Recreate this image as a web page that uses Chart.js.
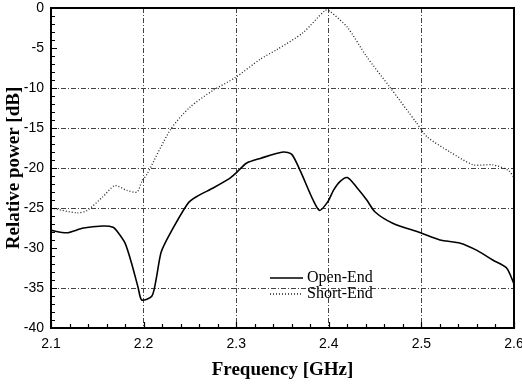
<!DOCTYPE html>
<html>
<head>
<meta charset="utf-8">
<script src="https://cdn.jsdelivr.net/npm/chart.js@4/dist/chart.umd.min.js"></script>
<style>
  html, body { margin: 0; padding: 0; background: #fff; }
  #wrap { width: 522px; height: 384px; }
</style>
</head>
<body>
<div id="wrap"><canvas id="grafico"></canvas></div>
<script>
// ------ DADOS ------
var freqOpen = [2.100, 2.117, 2.135, 2.156, 2.167, 2.172, 2.180, 2.187, 2.194, 2.198,
  2.209, 2.214, 2.219, 2.229, 2.248, 2.257, 2.275, 2.293, 2.300, 2.311,
  2.326, 2.351, 2.360, 2.369, 2.383, 2.390, 2.399, 2.405, 2.412, 2.420,
  2.430, 2.441, 2.450, 2.469, 2.499, 2.520, 2.542, 2.560, 2.577, 2.592, 2.600];
var powerOpen = [-27.8, -28.1, -27.5, -27.25, -27.4, -28.0, -29.4, -31.9, -34.9, -36.5,
  -36.0, -33.6, -30.5, -28.1, -24.4, -23.6, -22.5, -21.3, -20.6, -19.4,
  -18.8, -18.0, -18.3, -20.3, -24.0, -25.3, -24.2, -22.8, -21.7, -21.2,
  -22.4, -24.0, -25.5, -26.9, -28.1, -29.0, -29.4, -30.3, -31.5, -32.5, -34.5];

var freqShort = [2.100, 2.128, 2.139, 2.156, 2.169, 2.182, 2.193, 2.198, 2.204, 2.229,
  2.250, 2.275, 2.299, 2.326, 2.344, 2.372, 2.396, 2.401, 2.420, 2.441,
  2.466, 2.495, 2.506, 2.531, 2.556, 2.577, 2.594, 2.600];
var powerShort = [-25.0, -25.6, -25.3, -23.6, -22.2, -22.8, -23.0, -21.7, -20.7, -15.2,
  -12.4, -10.3, -8.7, -6.4, -5.2, -3.1, -0.3, -0.4, -2.4, -6.1,
  -9.9, -14.4, -16.1, -18.0, -19.6, -19.6, -20.3, -21.2];

var seriesNames = ['Open-End', 'Short-End'];
var xTicks = [2.1, 2.2, 2.3, 2.4, 2.5, 2.6];
var yTicks = [0, -5, -10, -15, -20, -25, -30, -35, -40];
var hiddenGrid = [-5, -30]; // essas linhas nao aparecem no original

function pares(xs, ys) {
  return xs.map(function (x, i) { return { x: x, y: ys[i] }; });
}

// ------ PLUGIN: moldura, ticks internos e legenda ------
var moldura = {
  id: 'moldura',
  afterDraw: function (chart) {
    var ctx = chart.ctx;
    var a = chart.chartArea;
    var sx = chart.scales.x, sy = chart.scales.y;
    ctx.save();

    // ticks menores para dentro
    ctx.strokeStyle = '#000';
    ctx.lineWidth = 1.2;
    ctx.beginPath();
    for (var v = -40; v <= 0; v++) {
      var py = Math.round(sy.getPixelForValue(v)) + 0.5;
      var len = (v % 5 === 0) ? 6 : 4;
      ctx.moveTo(a.left, py);
      ctx.lineTo(a.left + len, py);
    }
    for (var k = 0; k <= 25; k++) {
      var f = 2.1 + k * 0.02;
      var px = Math.round(sx.getPixelForValue(f)) + 0.5;
      var l2 = (k % 5 === 0) ? 6 : 4;
      ctx.moveTo(px, a.bottom);
      ctx.lineTo(px, a.bottom - l2);
    }
    ctx.stroke();

    // moldura
    ctx.lineWidth = 2;
    ctx.strokeRect(a.left, a.top, a.right - a.left, a.bottom - a.top);

    // legenda
    ctx.font = '16px "Liberation Serif", serif';
    ctx.textBaseline = 'middle';
    ctx.fillStyle = '#000';
    chart.data.datasets.forEach(function (ds, i) {
      var ly = a.top + 270 + i * 16;
      var lx = a.left + 219;
      ctx.beginPath();
      ctx.strokeStyle = ds.borderColor;
      ctx.lineWidth = ds.borderWidth;
      ctx.setLineDash(ds.borderDash || []);
      ctx.moveTo(lx, ly);
      ctx.lineTo(lx + 33, ly);
      ctx.stroke();
      ctx.setLineDash([]);
      ctx.fillText(ds.label, lx + 37, ly);
    });
    ctx.restore();
  }
};

var gridDash = [5, 2, 1, 2];
var serifTitle = { family: '"Liberation Serif", serif', size: 19, weight: 'bold' };

var ctx = document.getElementById('grafico');

var grafico = new Chart(ctx, {
  type: 'line',
  data: {
    datasets: [{
      label: seriesNames[0],
      data: pares(freqOpen, powerOpen),
      borderColor: '#000',
      borderWidth: 1.6,
      pointRadius: 0,
      tension: 0.25,
      fill: false
    }, {
      label: seriesNames[1],
      data: pares(freqShort, powerShort),
      borderColor: '#222',
      borderWidth: 1.3,
      borderDash: [1, 2],
      pointRadius: 0,
      tension: 0.25,
      fill: false
    }]
  },
  options: {
    responsive: true,
    maintainAspectRatio: false,
    animation: false,
    layout: { padding: { top: 8, right: 8, left: 0, bottom: 0 } },
    plugins: {
      legend: { display: false },
      tooltip: { enabled: false }
    },
    scales: {
      x: {
        type: 'linear',
        min: 2.1,
        max: 2.6,
        afterBuildTicks: function (scale) {
          scale.ticks = xTicks.map(function (v) { return { value: v }; });
        },
        afterFit: function (scale) {
          scale.height = 56;
          scale.paddingLeft = 0;
          scale.paddingRight = 0;
        },
        title: {
          display: true,
          text: 'Frequency [GHz]',
          color: '#000',
          font: serifTitle,
          padding: { top: 0, bottom: 3 }
        },
        ticks: {
          padding: 8,
          color: '#000',
          font: { family: '"Liberation Sans", Arial, sans-serif', size: 14 },
          callback: function (v) { return v.toFixed(1); }
        },
        grid: {
          drawTicks: false,
          color: function (c) {
            var v = c.tick ? c.tick.value : null;
            if (v === 2.1 || v === 2.6) return 'rgba(0,0,0,0)';
            return '#444';
          },
          lineWidth: 1
        },
        border: { display: false, dash: gridDash }
      },
      y: {
        min: -40,
        max: 0,
        afterBuildTicks: function (scale) {
          scale.ticks = yTicks.map(function (v) { return { value: v }; });
        },
        afterFit: function (scale) {
          scale.width = 51;
          scale.paddingTop = 0;
          scale.paddingBottom = 0;
        },
        title: {
          display: true,
          text: 'Relative power [dB]',
          color: '#000',
          font: serifTitle,
          padding: { top: 3, bottom: 0 }
        },
        ticks: {
          padding: 7,
          color: '#000',
          font: { family: '"Liberation Sans", Arial, sans-serif', size: 14 },
          callback: function (v) { return String(v); }
        },
        grid: {
          drawTicks: false,
          color: function (c) {
            var v = c.tick ? c.tick.value : null;
            if (v === 0 || v === -40 || hiddenGrid.indexOf(v) >= 0) return 'rgba(0,0,0,0)';
            return '#444';
          },
          lineWidth: 1
        },
        border: { display: false, dash: gridDash }
      }
    }
  },
  plugins: [moldura]
});
</script>
</body>
</html>
